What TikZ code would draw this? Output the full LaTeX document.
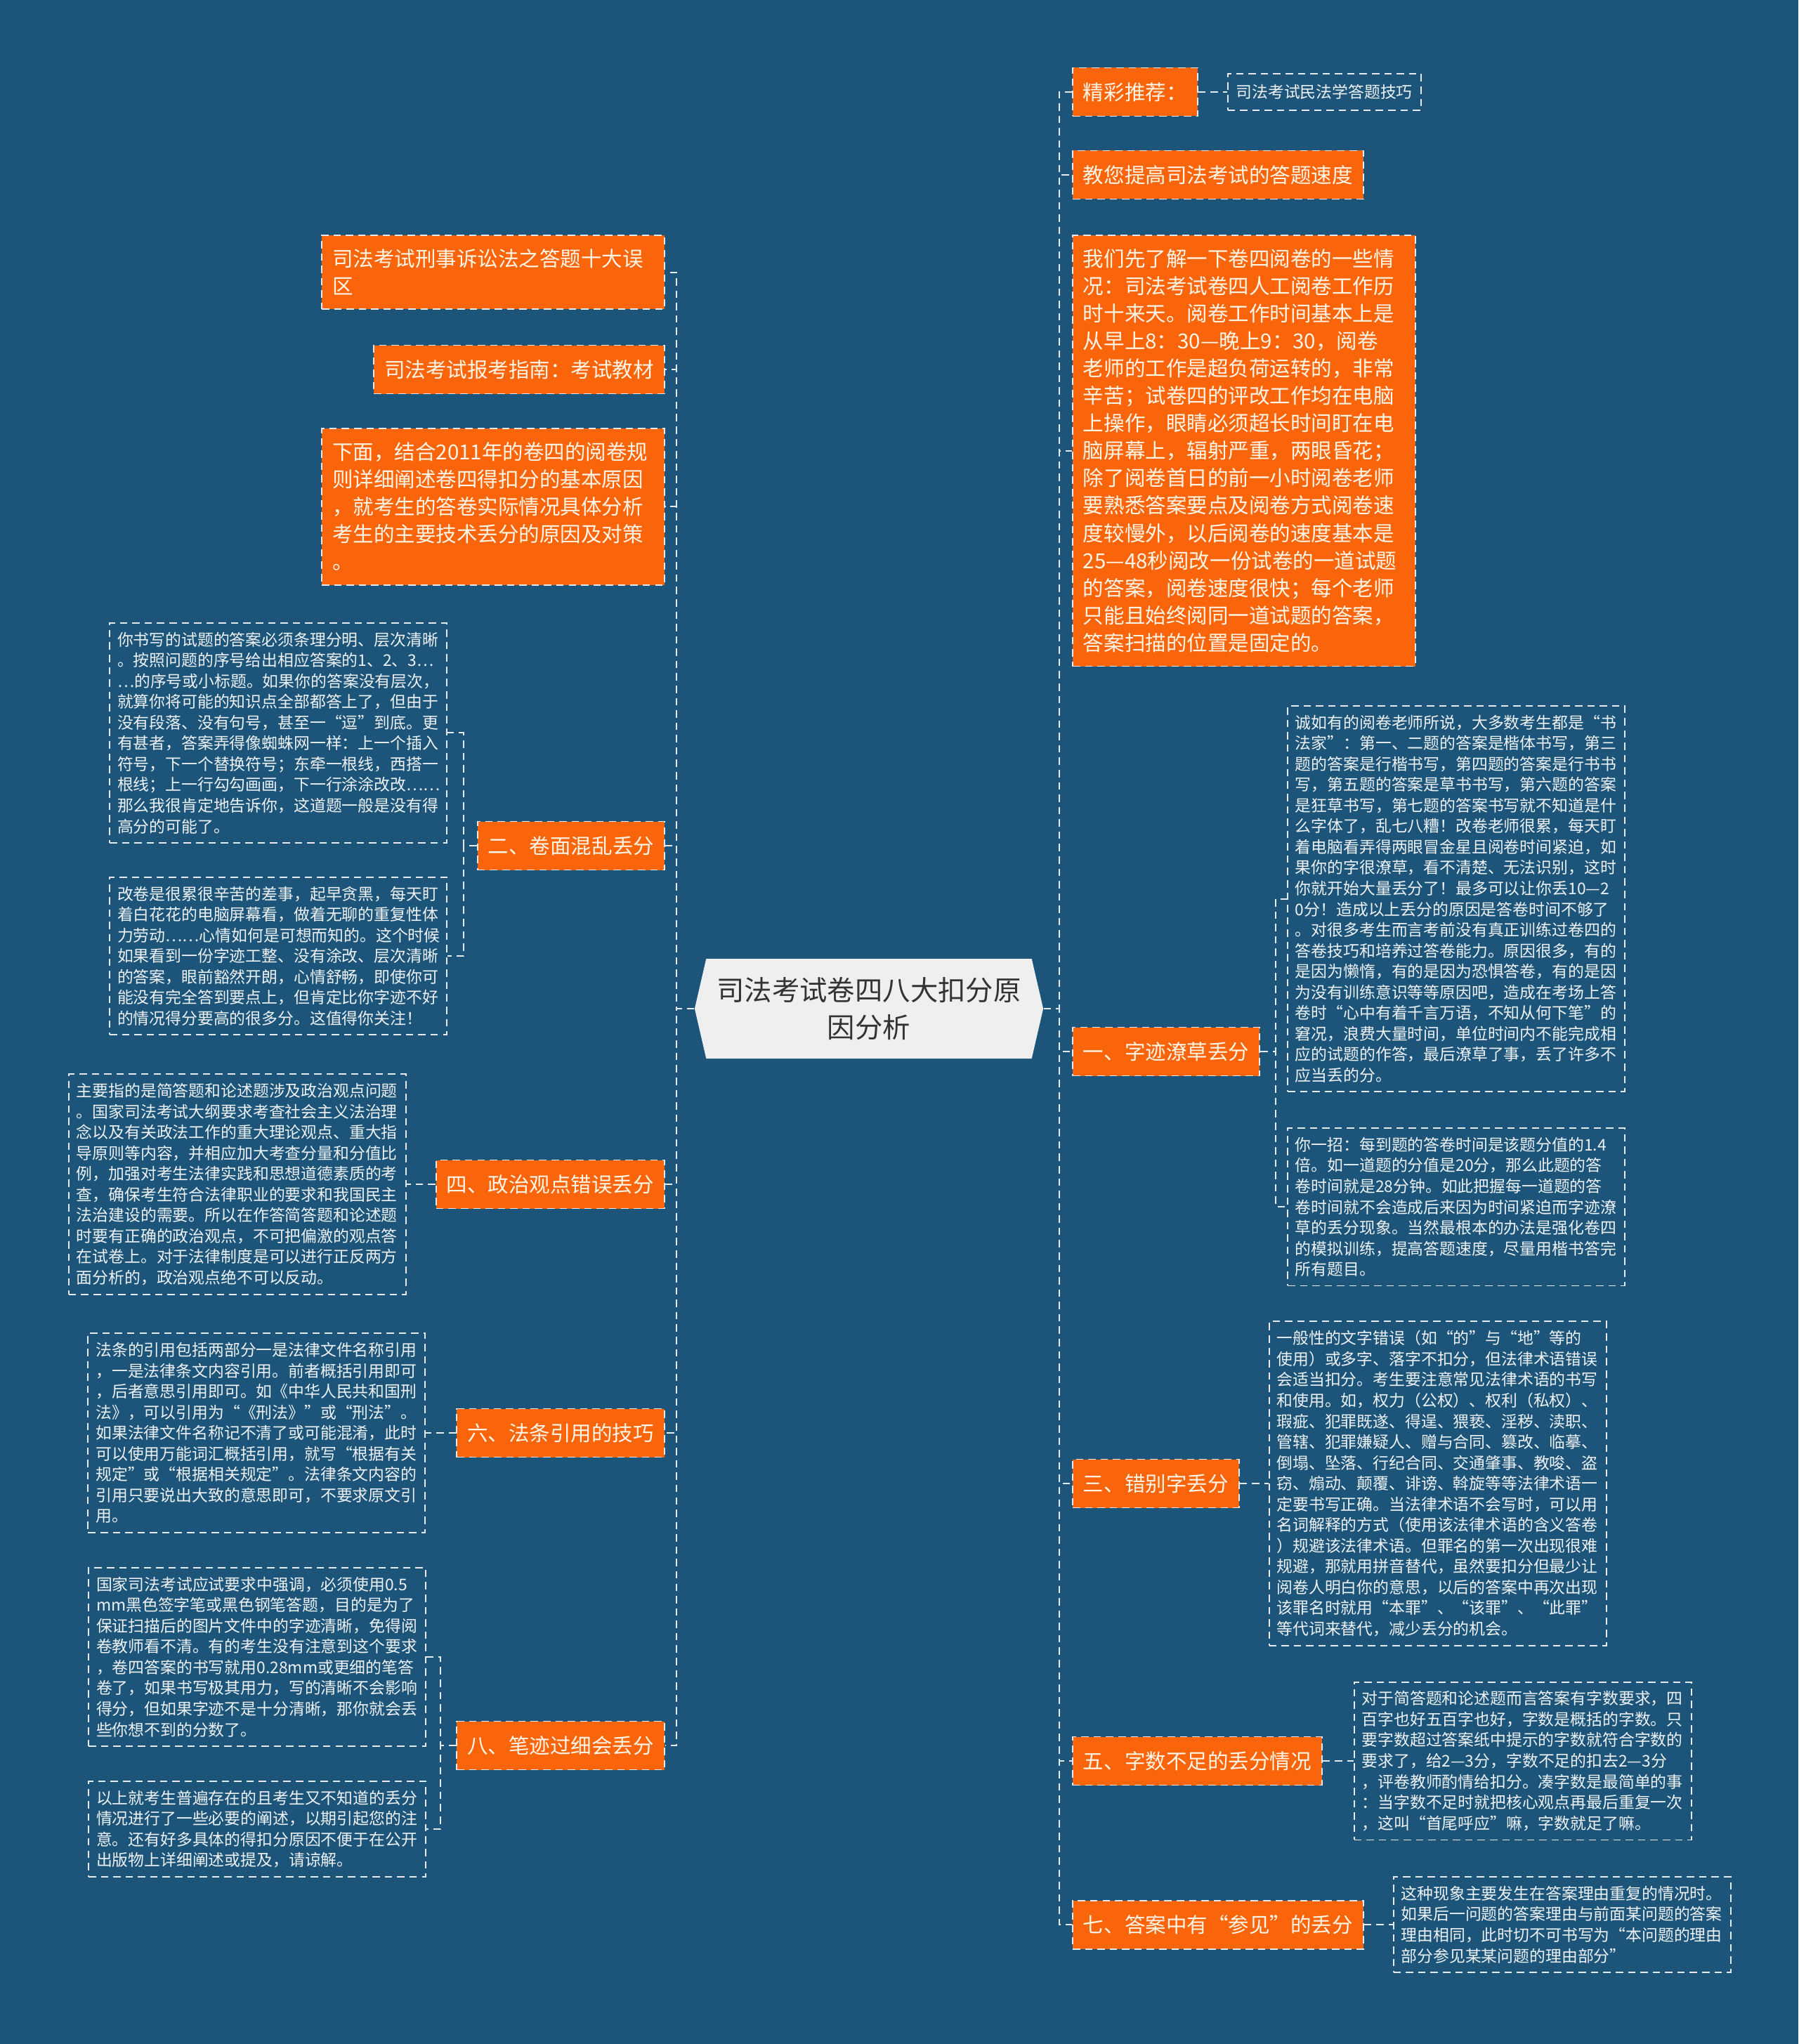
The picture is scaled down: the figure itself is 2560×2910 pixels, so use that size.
\documentclass[tikz,border=0pt]{standalone}
\usepackage{fontspec}
\setmainfont{Noto Sans CJK SC}
\usepackage{tikz}
\usetikzlibrary{shapes.symbols,positioning}
\usepackage{xcolor}
\definecolor{bgblue}{HTML}{1C5579}
\definecolor{mmorange}{HTML}{FA650C}
\definecolor{linkgray}{HTML}{E4EAEE}
\definecolor{rootgray}{HTML}{EFEFEF}
\definecolor{rootink}{HTML}{333333}
\definecolor{creamtext}{HTML}{FFF6E8}
\definecolor{notetext}{HTML}{EEF2F5}

\begin{document}
\begin{tikzpicture}[
  x=0.1mm, y=-0.1mm,
  link/.style={draw=linkgray, line width=0.55pt, dash pattern=on 3pt off 2pt},
  root/.style={signal, signal to=west and east, signal pointer angle=154,
               fill=rootgray, text=rootink,
               minimum width=49.5mm, minimum height=14.2mm,
               text width=44mm, align=center,
               font=\fontsize{11.2}{15.2}\selectfont},
  topic/.style={rectangle, fill=mmorange, link, text=creamtext,
                minimum height=6.9mm, inner xsep=1.5mm,
                font=\fontsize{8.4}{11.1}\selectfont},
  topicwide/.style={topic, text width=45.8mm, align=left, inner ysep=2mm},
  note/.style={rectangle, link, text=notetext,
               text width=45.8mm, align=left, inner xsep=1.1mm, inner ysep=1.3mm,
               font=\fontsize{6.5}{8.4}\selectfont},
  leaf/.style={rectangle, link, text=notetext,
               minimum height=5.2mm, inner xsep=1.2mm,
               font=\fontsize{6.5}{8.4}\selectfont}
]

\fill[bgblue] (0,0) rectangle (2560,2910);
\useasboundingbox (0,0) rectangle (2560,2910);

\node[root] (root) at (1237,1436) {司法考试卷四八大扣分原\\因分析};

% right side
\node[topic, anchor=west] (tuijian) at (1526,131) {精彩推荐：};
\node[leaf, right=4.1mm of tuijian] (tuijianlink) {司法考试民法学答题技巧};
\node[topic, anchor=west] (sudu) at (1526,249) {教您提高司法考试的答题速度};
\node[topicwide, anchor=north west] (yuejuan) at (1526,334)
  {我们先了解一下卷四阅卷的一些情\\况：司法考试卷四人工阅卷工作历\\时十来天。阅卷工作时间基本上是\\从早上8：30—晚上9：30，阅卷\\老师的工作是超负荷运转的，非常\\辛苦；试卷四的评改工作均在电脑\\上操作，眼睛必须超长时间盯在电\\脑屏幕上，辐射严重，两眼昏花；\\除了阅卷首日的前一小时阅卷老师\\要熟悉答案要点及阅卷方式阅卷速\\度较慢外，以后阅卷的速度基本是\\25—48秒阅改一份试卷的一道试题\\的答案，阅卷速度很快；每个老师\\只能且始终阅同一道试题的答案，\\答案扫描的位置是固定的。};

\node[topic, anchor=west] (ziji) at (1526,1497) {一、字迹潦草丢分};
\node[note, anchor=north west] (zijiA) at (1832,1004)
  {诚如有的阅卷老师所说，大多数考生都是“书\\法家”：第一、二题的答案是楷体书写，第三\\题的答案是行楷书写，第四题的答案是行书书\\写，第五题的答案是草书书写，第六题的答案\\是狂草书写，第七题的答案书写就不知道是什\\么字体了，乱七八糟！改卷老师很累，每天盯\\着电脑看弄得两眼冒金星且阅卷时间紧迫，如\\果你的字很潦草，看不清楚、无法识别，这时\\你就开始大量丢分了！最多可以让你丢10—2\\0分！造成以上丢分的原因是答卷时间不够了\\。对很多考生而言考前没有真正训练过卷四的\\答卷技巧和培养过答卷能力。原因很多，有的\\是因为懒惰，有的是因为恐惧答卷，有的是因\\为没有训练意识等等原因吧，造成在考场上答\\卷时“心中有着千言万语，不知从何下笔”的\\窘况，浪费大量时间，单位时间内不能完成相\\应的试题的作答，最后潦草了事，丢了许多不\\应当丢的分。};
\node[note, below=5mm of zijiA] (zijiB)
  {你一招：每到题的答卷时间是该题分值的1.4\\倍。如一道题的分值是20分，那么此题的答\\卷时间就是28分钟。如此把握每一道题的答\\卷时间就不会造成后来因为时间紧迫而字迹潦\\草的丢分现象。当然最根本的办法是强化卷四\\的模拟训练，提高答题速度，尽量用楷书答完\\所有题目。};

\node[topic, anchor=west] (cuobie) at (1526,2112) {三、错别字丢分};
\node[note, right=4.1mm of cuobie] (cuobieA)
  {一般性的文字错误（如“的”与“地”等的\\使用）或多字、落字不扣分，但法律术语错误\\会适当扣分。考生要注意常见法律术语的书写\\和使用。如，权力（公权）、权利（私权）、\\瑕疵、犯罪既遂、得逞、猥亵、淫秽、渎职、\\管辖、犯罪嫌疑人、赠与合同、篡改、临摹、\\倒塌、坠落、行纪合同、交通肇事、教唆、盗\\窃、煽动、颠覆、诽谤、斡旋等等法律术语一\\定要书写正确。当法律术语不会写时，可以用\\名词解释的方式（使用该法律术语的含义答卷\\）规避该法律术语。但罪名的第一次出现很难\\规避，那就用拼音替代，虽然要扣分但最少让\\阅卷人明白你的意思，以后的答案中再次出现\\该罪名时就用“本罪”、“该罪”、“此罪”\\等代词来替代，减少丢分的机会。};

\node[topic, anchor=west] (zishu) at (1526,2507) {五、字数不足的丢分情况};
\node[note, right=4.4mm of zishu] (zishuA)
  {对于简答题和论述题而言答案有字数要求，四\\百字也好五百字也好，字数是概括的字数。只\\要字数超过答案纸中提示的字数就符合字数的\\要求了，给2—3分，字数不足的扣去2—3分\\，评卷教师酌情给扣分。凑字数是最简单的事\\：当字数不足时就把核心观点再最后重复一次\\，这叫“首尾呼应”嘛，字数就足了嘛。};

\node[topic, anchor=west, minimum width=41.2mm] (canjian) at (1526,2740) {七、答案中有“参见”的丢分};
\node[note, right=4.1mm of canjian] (canjianA)
  {这种现象主要发生在答案理由重复的情况时。\\如果后一问题的答案理由与前面某问题的答案\\理由相同，此时切不可书写为“本问题的理由\\部分参见某某问题的理由部分”};

% left side
\node[topicwide, anchor=north east] (wuqu) at (947,334) {司法考试刑事诉讼法之答题十大误\\区};
\node[topic, anchor=east] (zhinan) at (947,526) {司法考试报考指南：考试教材};
\node[topicwide, anchor=north east] (xiamian) at (947,609)
  {下面，结合2011年的卷四的阅卷规\\则详细阐述卷四得扣分的基本原因\\，就考生的答卷实际情况具体分析\\考生的主要技术丢分的原因及对策\\。};

\node[topic, anchor=east] (juanmian) at (947,1204) {二、卷面混乱丢分};
\node[note, anchor=north east] (juanmianA) at (637,886)
  {你书写的试题的答案必须条理分明、层次清晰\\。按照问题的序号给出相应答案的1、2、3…\\…的序号或小标题。如果你的答案没有层次，\\就算你将可能的知识点全部都答上了，但由于\\没有段落、没有句号，甚至一“逗”到底。更\\有甚者，答案弄得像蜘蛛网一样：上一个插入\\符号，下一个替换符号；东牵一根线，西搭一\\根线；上一行勾勾画画，下一行涂涂改改……\\那么我很肯定地告诉你，这道题一般是没有得\\高分的可能了。};
\node[note, below=4.7mm of juanmianA] (juanmianB)
  {改卷是很累很辛苦的差事，起早贪黑，每天盯\\着白花花的电脑屏幕看，做着无聊的重复性体\\力劳动……心情如何是可想而知的。这个时候\\如果看到一份字迹工整、没有涂改、层次清晰\\的答案，眼前豁然开朗，心情舒畅，即使你可\\能没有完全答到要点上，但肯定比你字迹不好\\的情况得分要高的很多分。这值得你关注！};

\node[topic, anchor=east] (zhengzhi) at (947,1686) {四、政治观点错误丢分};
\node[note, left=4.1mm of zhengzhi] (zhengzhiA)
  {主要指的是简答题和论述题涉及政治观点问题\\。国家司法考试大纲要求考查社会主义法治理\\念以及有关政法工作的重大理论观点、重大指\\导原则等内容，并相应加大考查分量和分值比\\例，加强对考生法律实践和思想道德素质的考\\查，确保考生符合法律职业的要求和我国民主\\法治建设的需要。所以在作答简答题和论述题\\时要有正确的政治观点，不可把偏激的观点答\\在试卷上。对于法律制度是可以进行正反两方\\面分析的，政治观点绝不可以反动。};

\node[topic, anchor=east] (fatiao) at (947,2040) {六、法条引用的技巧};
\node[note, left=4.3mm of fatiao] (fatiaoA)
  {法条的引用包括两部分一是法律文件名称引用\\，一是法律条文内容引用。前者概括引用即可\\，后者意思引用即可。如《中华人民共和国刑\\法》，可以引用为“《刑法》”或“刑法”。\\如果法律文件名称记不清了或可能混淆，此时\\可以使用万能词汇概括引用，就写“根据有关\\规定”或“根据相关规定”。法律条文内容的\\引用只要说出大致的意思即可，不要求原文引\\用。};

\node[topic, anchor=east] (biji) at (947,2485) {八、笔迹过细会丢分};
\node[note, anchor=north east] (bijiA) at (607,2231)
  {国家司法考试应试要求中强调，必须使用0.5\\mm黑色签字笔或黑色钢笔答题，目的是为了\\保证扫描后的图片文件中的字迹清晰，免得阅\\卷教师看不清。有的考生没有注意到这个要求\\，卷四答案的书写就用0.28mm或更细的笔答\\卷了，如果书写极其用力，写的清晰不会影响\\得分，但如果字迹不是十分清晰，那你就会丢\\些你想不到的分数了。};
\node[note, below=4.8mm of bijiA] (bijiB)
  {以上就考生普遍存在的且考生又不知道的丢分\\情况进行了一些必要的阐述，以期引起您的注\\意。还有好多具体的得扣分原因不便于在公开\\出版物上详细阐述或提及，请谅解。};

% trunks from the root
\foreach \n in {tuijian,sudu,yuejuan,ziji,cuobie,zishu,canjian}
  \draw[link] (root.east) -- ++(22,0) |- (\n.west);
\foreach \n in {wuqu,zhinan,xiamian,juanmian,zhengzhi,fatiao,biji}
  \draw[link] (root.west) -- ++(-25,0) |- (\n.east);

% branches to the notes
\draw[link] (tuijian) -- (tuijianlink);
\foreach \n in {zijiA,zijiB}
  \draw[link] (ziji.east) -- ++(22,0) |- (\n.west);
\draw[link] (cuobie.east) -- ++(20,0) |- (cuobieA.west);
\draw[link] (zishu.east) -- ++(22,0) |- (zishuA.west);
\draw[link] (canjian.east) -- ++(20,0) |- (canjianA.west);
\foreach \n in {juanmianA,juanmianB}
  \draw[link] (juanmian.west) -- ++(-19,0) |- (\n.east);
\draw[link] (zhengzhi.west) -- ++(-20,0) |- (zhengzhiA.east);
\draw[link] (fatiao.west) -- ++(-21,0) |- (fatiaoA.east);
\foreach \n in {bijiA,bijiB}
  \draw[link] (biji.west) -- ++(-22,0) |- (\n.east);

\end{tikzpicture}
\end{document}
